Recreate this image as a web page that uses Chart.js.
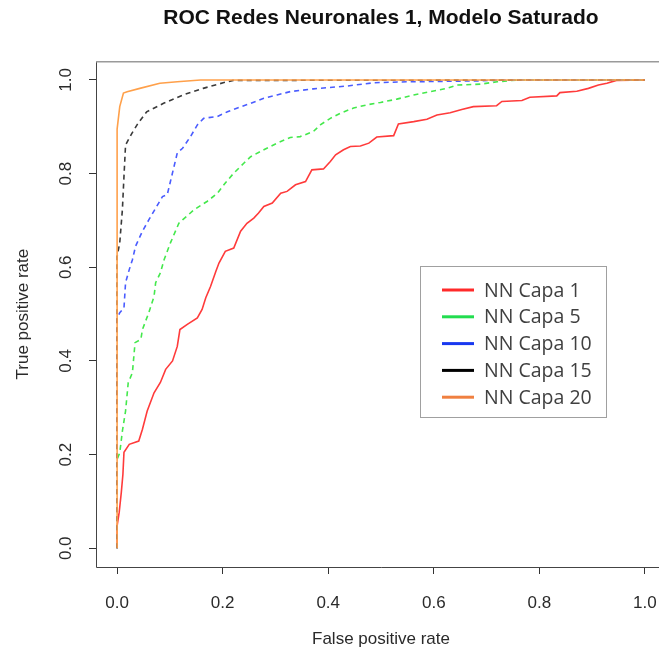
<!DOCTYPE html>
<html>
<head>
<meta charset="utf-8">
<title>ROC Redes Neuronales 1</title>
<script src="https://cdn.jsdelivr.net/npm/chart.js@4.4.1/dist/chart.umd.min.js"></script>
<style>
  html, body { margin: 0; padding: 0; background: #fff; overflow: hidden; }
  #wrap { position: relative; width: 700px; height: 656px; }
</style>
</head>
<body>
<div id="wrap"><canvas id="roc" width="700" height="656"></canvas></div>
<script>
// tick labels (both axes)
const tickValues = [0, 0.2, 0.4, 0.6, 0.8, 1.0];

const seriesNames = ['NN Capa 1', 'NN Capa 5', 'NN Capa 10', 'NN Capa 15', 'NN Capa 20'];

// ROC points (false positive rate, true positive rate)
const capa1Fpr = [0, 0, 0.004, 0.008, 0.011, 0.013, 0.023, 0.041, 0.048, 0.057, 0.070, 0.082, 0.092, 0.105, 0.114, 0.119,
    0.133, 0.152, 0.161, 0.168, 0.177, 0.187, 0.193, 0.205, 0.221, 0.234, 0.246, 0.259, 0.268, 0.278, 0.294, 0.310,
    0.322, 0.338, 0.357, 0.369, 0.391, 0.404, 0.414, 0.429, 0.442, 0.461, 0.477, 0.492, 0.524, 0.533, 0.562, 0.587,
    0.606, 0.631, 0.653, 0.675, 0.719, 0.729, 0.767, 0.782, 0.833, 0.839, 0.871, 0.893, 0.912, 0.928, 0.946, 1.0];
const capa1Tpr = [0, 0.048, 0.077, 0.120, 0.158, 0.205, 0.222, 0.229, 0.254, 0.293, 0.332, 0.354, 0.382, 0.400, 0.431, 0.467,
    0.478, 0.492, 0.510, 0.535, 0.559, 0.591, 0.609, 0.634, 0.641, 0.677, 0.694, 0.705, 0.716, 0.730, 0.737, 0.758,
    0.762, 0.776, 0.783, 0.808, 0.810, 0.826, 0.840, 0.851, 0.858, 0.859, 0.865, 0.878, 0.881, 0.906, 0.911, 0.916,
    0.925, 0.930, 0.937, 0.943, 0.945, 0.954, 0.956, 0.963, 0.966, 0.973, 0.976, 0.982, 0.989, 0.993, 0.999, 1.0];

const capa5Fpr = [0, 0, 0.005, 0.010, 0.016, 0.021, 0.029, 0.034, 0.045, 0.048, 0.060, 0.070, 0.073, 0.082, 0.089,
    0.101, 0.117, 0.124, 0.146, 0.171, 0.190, 0.205, 0.221, 0.240, 0.253, 0.278, 0.303, 0.328, 0.347, 0.372,
    0.385, 0.404, 0.423, 0.448, 0.474, 0.499, 0.530, 0.562, 0.593, 0.625, 0.644, 0.688, 0.720, 0.760, 1.0];
const capa5Tpr = [0, 0.190, 0.204, 0.250, 0.293, 0.353, 0.375, 0.439, 0.446, 0.467, 0.503, 0.538, 0.567, 0.588, 0.616,
    0.652, 0.694, 0.701, 0.723, 0.741, 0.758, 0.780, 0.801, 0.822, 0.836, 0.851, 0.865, 0.877, 0.879, 0.890,
    0.904, 0.918, 0.929, 0.940, 0.947, 0.952, 0.959, 0.968, 0.975, 0.982, 0.989, 0.991, 0.996, 1.0, 1.0];

const capa10Fpr = [0, 0, 0.005, 0.013, 0.016, 0.023, 0.029, 0.035, 0.048, 0.060, 0.073, 0.086, 0.095, 0.101, 0.114,
    0.124, 0.139, 0.152, 0.164, 0.190, 0.209, 0.228, 0.253, 0.278, 0.303, 0.328, 0.372, 0.436, 0.486, 0.549,
    0.688, 0.726, 1.0];
const capa10Tpr = [0, 0.490, 0.503, 0.513, 0.567, 0.595, 0.616, 0.645, 0.677, 0.701, 0.726, 0.751, 0.755, 0.783, 0.844,
    0.854, 0.879, 0.904, 0.918, 0.922, 0.932, 0.940, 0.950, 0.961, 0.968, 0.975, 0.981, 0.987, 0.994, 0.996,
    0.998, 1.0, 1.0];

const capa15Fpr = [0, 0, 0.005, 0.010, 0.013, 0.016, 0.028, 0.040, 0.056, 0.088, 0.125, 0.163, 0.201, 0.220, 1.0];
const capa15Tpr = [0, 0.623, 0.652, 0.723, 0.794, 0.861, 0.886, 0.908, 0.932, 0.950, 0.968, 0.982, 0.994, 0.999, 1.0];

const capa20Fpr = [0, 0, 0.005, 0.012, 0.019, 0.043, 0.081, 0.114, 0.158, 1.0];
const capa20Tpr = [0, 0.895, 0.943, 0.972, 0.975, 0.982, 0.993, 0.996, 1.0, 1.0];

function toPoints(xs, ys) {
    return xs.map((x, i) => ({ x: x, y: ys[i] }));
}

const lineColors = ['#ff3b3b', '#44e84c', '#4a5cff', '#3a3a3a', '#ffa04a'];
const legendColors = ['#ff2a2a', '#22dd4f', '#1838f0', '#000000', '#f08040'];
const dashes = [[], [5, 4], [5, 4], [5, 4], []];
const allFpr = [capa1Fpr, capa5Fpr, capa10Fpr, capa15Fpr, capa20Fpr];
const allTpr = [capa1Tpr, capa5Tpr, capa10Tpr, capa15Tpr, capa20Tpr];

const rFont = "'Liberation Sans', Arial, sans-serif";
const textColor = '#2a2a2a';

// R style box around the plot region
const boxPlugin = {
    id: 'rBox',
    afterDraw: function (chart) {
        const ctx = chart.ctx;
        const a = chart.chartArea;
        ctx.save();
        ctx.lineWidth = 1;
        ctx.strokeStyle = '#444';
        ctx.beginPath();
        ctx.moveTo(a.left + 0.5, a.top);
        ctx.lineTo(a.left + 0.5, a.bottom + 0.5);
        ctx.lineTo(a.right, a.bottom + 0.5);
        ctx.stroke();
        ctx.strokeStyle = '#9a9a9a';
        ctx.lineWidth = 1.5;
        ctx.beginPath();
        ctx.moveTo(a.left, a.top + 0.5);
        ctx.lineTo(a.right, a.top + 0.5);
        ctx.stroke();
        ctx.restore();
    }
};

// pasted-in legend box
const legendPlugin = {
    id: 'boxLegend',
    afterDraw: function (chart) {
        const ctx = chart.ctx;
        const left = 420, top = 266, w = 186, h = 151;
        ctx.save();
        ctx.fillStyle = '#fff';
        ctx.fillRect(left, top, w, h);
        ctx.strokeStyle = '#a0a0a0';
        ctx.lineWidth = 1;
        ctx.strokeRect(left + 0.5, top + 0.5, w, h);
        ctx.font = "19.5px 'Open Sans', sans-serif";
        ctx.textBaseline = 'middle';
        chart.data.datasets.forEach(function (ds, i) {
            const y = top + 24 + i * 26.8;
            ctx.strokeStyle = legendColors[i];
            ctx.lineWidth = 3;
            ctx.beginPath();
            ctx.moveTo(left + 22, y);
            ctx.lineTo(left + 54, y);
            ctx.stroke();
            ctx.fillStyle = '#404040';
            ctx.fillText(ds.label, left + 64, y + 1);
        });
        ctx.restore();
    }
};

const ctx = document.getElementById('roc').getContext('2d');

new Chart(ctx, {
    type: 'scatter',
    data: {
        datasets: seriesNames.map(function (name, i) {
            return {
                label: name,
                data: toPoints(allFpr[i], allTpr[i]),
                showLine: true,
                borderColor: lineColors[i],
                backgroundColor: lineColors[i],
                borderWidth: 1.6,
                borderDash: dashes[i],
                pointRadius: 0,
                pointHoverRadius: 0,
                order: seriesNames.length - i
            };
        })
    },
    options: {
        responsive: false,
        animation: false,
        layout: { padding: { left: 0, right: 34, top: 0, bottom: 0 } },
        plugins: {
            legend: { display: false },
            tooltip: { enabled: false },
            title: {
                display: true,
                fullSize: false,
                text: 'ROC Redes Neuronales 1, Modelo Saturado',
                color: '#111',
                font: { family: rFont, size: 21, weight: 'bold' },
                padding: { top: 6, bottom: 30 }
            }
        },
        scales: {
            x: {
                type: 'linear',
                min: -0.04,
                max: 1.04,
                afterBuildTicks: function (s) { s.ticks = tickValues.map(function (v) { return { value: v }; }); },
                afterFit: function (s) { s.height = 89; },
                border: { display: false },
                grid: { drawOnChartArea: false, drawTicks: true, tickLength: 7, tickColor: '#333', color: '#333' },
                ticks: {
                    autoSkip: false,
                    maxRotation: 0,
                    padding: 19,
                    color: textColor,
                    font: { family: rFont, size: 17 },
                    callback: function (v) { return Number(v).toFixed(1); }
                },
                title: {
                    display: true,
                    text: 'False positive rate',
                    color: textColor,
                    font: { family: rFont, size: 17 },
                    padding: { top: 0, bottom: 6 }
                }
            },
            y: {
                type: 'linear',
                min: -0.04,
                max: 1.04,
                afterBuildTicks: function (s) { s.ticks = tickValues.map(function (v) { return { value: v }; }); },
                afterFit: function (s) { s.width = 96; },
                border: { display: false },
                grid: { drawOnChartArea: false, drawTicks: true, tickLength: 7, tickColor: '#333', color: '#333' },
                ticks: {
                    autoSkip: false,
                    minRotation: 90,
                    maxRotation: 90,
                    crossAlign: 'center',
                    padding: 11,
                    color: textColor,
                    font: { family: rFont, size: 17 },
                    callback: function (v) { return Number(v).toFixed(1); }
                },
                title: {
                    display: true,
                    text: 'True positive rate',
                    color: textColor,
                    font: { family: rFont, size: 17 },
                    padding: { top: 13, bottom: 0 }
                }
            }
        }
    },
    plugins: [boxPlugin, legendPlugin]
});
</script>
</body>
</html>
